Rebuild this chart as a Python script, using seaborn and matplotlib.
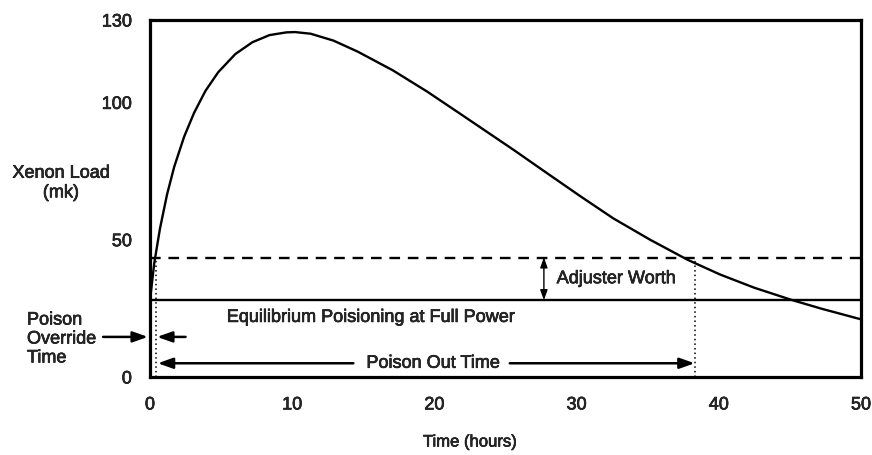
import matplotlib
matplotlib.use("Agg")
import matplotlib.pyplot as plt
import matplotlib.patheffects as pe
import seaborn as sns
import pandas as pd

# Xenon transient after a reactor trip from full power
time_h = [0.0, 0.3, 0.7, 1.2, 1.7, 2.4, 3.1, 3.9, 4.8, 6.0, 7.2, 8.4, 9.6,
          10.2, 11.3, 12.9, 14.6, 17.1, 19.5, 21.8, 23.2, 25.6, 27.9, 30.3,
          32.6, 35.2, 37.8, 40.1, 42.5, 45.1, 47.2, 50.0]
xenon_mk = [28.0, 41.5, 54.0, 66.5, 76.5, 87.5, 96.2, 104.2, 111.0, 117.6,
            121.9, 124.5, 125.5, 125.6, 125.0, 122.5, 118.5, 111.6, 103.9,
            95.9, 91.0, 82.6, 74.3, 65.7, 57.7, 49.9, 42.7, 37.3, 32.5, 28.1,
            24.9, 21.0]

equilibrium_mk = 28.0          # equilibrium poisoning at full power
override_level_mk = 43.5       # equilibrium + adjuster worth
override_time_h = 0.4          # poison override time
poison_out_time_h = 38.3       # end of poison out period

y_major = [0, 50, 100, 130]
y_minor = [10, 20, 30, 40, 60, 70, 80, 90, 110, 120]
x_ticks = [0, 10, 20, 30, 40, 50]

sns.set_style("white")
plt.rcParams["font.family"] = ["Liberation Sans", "DejaVu Sans"]
# slightly heavier strokes for all lettering
plt.rcParams["path.effects"] = []
ink = [pe.withStroke(linewidth=0.45, foreground="black")]

fig = plt.figure(figsize=(8.72, 4.56), dpi=100)
ax = fig.add_axes([150 / 872, 1 - 378 / 456, 711 / 872, 357 / 456])

df = pd.DataFrame({"Time (hours)": time_h, "Xenon Load (mk)": xenon_mk})
sns.lineplot(data=df, x="Time (hours)", y="Xenon Load (mk)", ax=ax,
             color="black", linewidth=1.7, zorder=3)

ax.axhline(equilibrium_mk, color="black", linewidth=1.7)
ax.axhline(override_level_mk, color="black", linewidth=1.7,
           dashes=(4.5, 3.3))

# dotted markers for the override and poison-out times
for t in (override_time_h, poison_out_time_h):
    ax.plot([t, t], [0, override_level_mk], color="black",
            linestyle=(0, (1, 2)), linewidth=1.1)

ax.set_xlim(0, 50)
ax.set_ylim(0, 130)
ax.set_xticks(x_ticks)
ax.set_yticks(y_major)
ax.set_yticks(y_minor, minor=True)
ax.tick_params(axis="both", which="both", direction="out", length=6,
               width=1.8, color="black", labelsize=13)
ax.tick_params(axis="y", pad=7)
ax.tick_params(axis="x", pad=8)
for s in ax.spines.values():
    s.set_visible(True)
    s.set_linewidth(2.3)
    s.set_color("black")
ax.set_xlabel("")
ax.set_ylabel("")
for lab in ax.get_xticklabels() + ax.get_yticklabels():
    lab.set_path_effects(ink)

fs = 13
head = dict(arrowstyle="-|>,head_length=0.9,head_width=0.32",
            color="black", linewidth=1.8, shrinkA=0, shrinkB=0)

# Poison override time arrows (pointing inward on the interval)
ax.annotate("", xy=(-0.15, 14.6), xytext=(-3.3, 14.6),
            arrowprops=head, annotation_clip=False)
ax.annotate("", xy=(0.5, 14.6), xytext=(2.5, 14.6),
            arrowprops=head, annotation_clip=False)

# Poison out time
ax.annotate("", xy=(0.55, 5.0), xytext=(14.3, 5.0), arrowprops=head)
ax.annotate("", xy=(poison_out_time_h, 5.0), xytext=(25.3, 5.0),
            arrowprops=head)
ax.text(19.9, 5.0, "Poison Out Time", ha="center", va="center",
        fontsize=fs, path_effects=ink)

# Adjuster worth
dbl = dict(arrowstyle="<|-|>,head_length=0.6,head_width=0.22",
           color="black", linewidth=1.0, shrinkA=0, shrinkB=0)
ax.annotate("", xy=(27.7, override_level_mk), xytext=(27.7, equilibrium_mk),
            arrowprops=dbl)
ax.text(28.6, 35.8, "Adjuster Worth", ha="left", va="center", fontsize=fs,
        path_effects=ink)

ax.text(5.4, 21.7, "Equilibrium Poisioning at Full Power", ha="left",
        va="center", fontsize=fs, path_effects=ink)

fig.text(61 / 872, 1 - 184 / 456, "Xenon Load\n(mk)", ha="center",
         va="center", fontsize=fs, linespacing=1.2, path_effects=ink)
fig.text(27 / 872, 1 - 340 / 456, "Poison\nOverride\nTime", ha="left",
         va="center", fontsize=fs, linespacing=1.15, path_effects=ink)
fig.text(470 / 872, 1 - 443 / 456, "Time (hours)", ha="center",
         va="center", fontsize=fs - 1, path_effects=ink)

fig.savefig("out.png", dpi=100)
